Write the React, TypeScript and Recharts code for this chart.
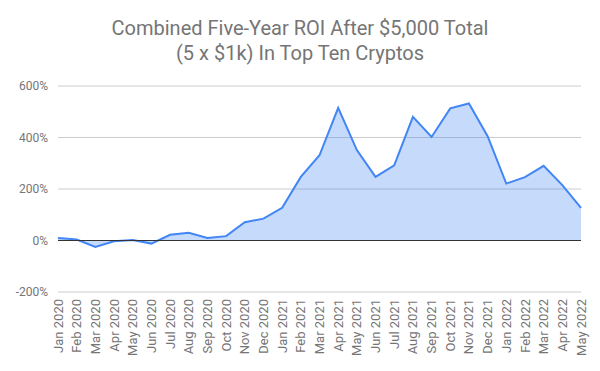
import React from "react";
import { AreaChart, Area, XAxis, YAxis, CartesianGrid, ReferenceLine } from "recharts";

const months = [
  "Jan 2020", "Feb 2020", "Mar 2020", "Apr 2020", "May 2020", "Jun 2020",
  "Jul 2020", "Aug 2020", "Sep 2020", "Oct 2020", "Nov 2020", "Dec 2020",
  "Jan 2021", "Feb 2021", "Mar 2021", "Apr 2021", "May 2021", "Jun 2021",
  "Jul 2021", "Aug 2021", "Sep 2021", "Oct 2021", "Nov 2021", "Dec 2021",
  "Jan 2022", "Feb 2022", "Mar 2022", "Apr 2022", "May 2022",
];
const roi = [
  10, 4, -25, -3, 2, -12, 22, 30, 10, 17, 71, 85,
  127, 247, 331, 515, 351, 247, 292, 480, 402, 513, 532, 405,
  221, 246, 290, 215, 127,
];
const yTicks = [-200, 0, 200, 400, 600];

const data = months.map((m, i) => ({ month: m, roi: roi[i] }));

const XTick = (props: any) => {
  const { x, y, payload } = props;
  return (
    <text
      x={x}
      y={y}
      transform={`rotate(-90, ${x}, ${y})`}
      textAnchor="end"
      dy="0.35em"
      dx={1}
      fill="#757575"
      fontSize={13}
      fontFamily="Roboto"
    >
      {payload.value}
    </text>
  );
};

export default function App() {
  return (
    <div style={{ position: "absolute", left: 0, top: 0, width: 600, height: 371, background: "#fff" }}>
      <div
        style={{
          position: "absolute",
          left: 0,
          top: 16,
          width: 600,
          textAlign: "center",
          fontFamily: "Roboto",
          fontSize: 20,
          lineHeight: "25px",
          color: "#757575",
        }}
      >
        Combined Five-Year ROI After $5,000 Total
        <br />
        (5 x $1k) In Top Ten Cryptos
      </div>
      <AreaChart
        width={600}
        height={371}
        data={data}
        margin={{ top: 86, right: 19, bottom: 0, left: 0 }}
      >
        <CartesianGrid vertical={false} stroke="#cccccc" />
        <XAxis
          dataKey="month"
          interval={0}
          axisLine={false}
          tickLine={false}
          height={79}
          tick={<XTick />}
        />
        <YAxis
          domain={[-200, 600]}
          ticks={yTicks}
          width={58}
          axisLine={false}
          tickLine={false}
          tickFormatter={(v: number) => `${v}%`}
          tick={{ fill: "#757575", fontSize: 12, fontFamily: "Roboto" }}
          tickMargin={4}
        />
        <Area
          type="linear"
          dataKey="roi"
          stroke="#4285f4"
          strokeWidth={2}
          fill="#4285f4"
          fillOpacity={0.3}
          baseValue={0}
          isAnimationActive={false}
          dot={false}
          activeDot={false}
        />
        <ReferenceLine y={0} stroke="#333333" strokeWidth={1} />
      </AreaChart>
    </div>
  );
}
